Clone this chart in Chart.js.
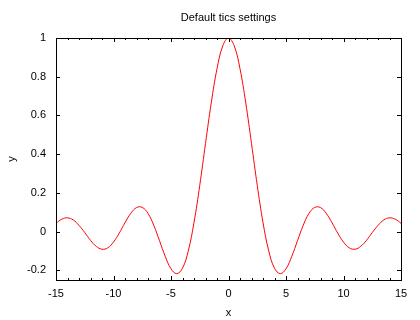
<!DOCTYPE html>
<html>
<head>
<meta charset="UTF-8">
<title>Default tics settings</title>
<script src="https://cdn.jsdelivr.net/npm/chart.js"></script>
<style>
  html, body { margin: 0; padding: 0; background: #fff; }
  #wrap { width: 420px; height: 320px; }
</style>
</head>
<body>
<div id="wrap"><canvas id="c"></canvas></div>
<script>
// values (x from -15 to 15, step 0.5)
const xs = [-15, -14.5, -14, -13.5, -13, -12.5, -12, -11.5, -11, -10.5, -10, -9.5, -9, -8.5, -8, -7.5, -7, -6.5, -6, -5.5, -5, -4.5, -4, -3.5, -3, -2.5, -2, -1.5, -1, -0.5,
  0, 0.5, 1, 1.5, 2, 2.5, 3, 3.5, 4, 4.5, 5, 5.5, 6, 6.5, 7, 7.5, 8, 8.5, 9, 9.5, 10, 10.5, 11, 11.5, 12, 12.5, 13, 13.5, 14, 14.5, 15];
const ys = [0.043, 0.064, 0.071, 0.060, 0.032, -0.005, -0.045, -0.076, -0.091, -0.084, -0.054, -0.008, 0.046, 0.094, 0.124, 0.125, 0.094, 0.033, -0.047, -0.128, -0.192, -0.217, -0.189, -0.100, 0.047, 0.239, 0.455, 0.665, 0.841, 0.959,
  1, 0.959, 0.841, 0.665, 0.455, 0.239, 0.047, -0.100, -0.189, -0.217, -0.192, -0.128, -0.047, 0.033, 0.094, 0.125, 0.124, 0.094, 0.046, -0.008, -0.054, -0.084, -0.091, -0.076, -0.045, -0.005, 0.032, 0.060, 0.071, 0.064, 0.043];
const xTicks = [-15, -10, -5, 0, 5, 10, 15];
const yTicks = [-0.2, 0, 0.2, 0.4, 0.6, 0.8, 1];
const yLabels = ['-0.2', '0', '0.2', '0.4', '0.6', '0.8', '1'];

const FONT = 'Liberation Sans, Arial, sans-serif';
const TITLE = 'Default tics settings';

// frame box, inward tic marks and title centred over the plot, like gnuplot
const frame = {
  id: 'frame',
  afterDatasetsDraw(chart) {
    const ctx = chart.ctx, a = chart.chartArea;
    const sx = chart.scales.x, sy = chart.scales.y;
    ctx.save();
    ctx.strokeStyle = '#000';
    ctx.lineWidth = 1;
    ctx.beginPath();
    for (let v = -15; v <= 15; v++) {
      const px = Math.round(sx.getPixelForValue(v)) + 0.5;
      const len = xTicks.includes(v) ? 4 : 2;
      ctx.moveTo(px, a.bottom); ctx.lineTo(px, a.bottom - len);
      ctx.moveTo(px, a.top); ctx.lineTo(px, a.top + len);
    }
    yTicks.forEach(v => {
      const py = Math.round(sy.getPixelForValue(v)) + 0.5;
      ctx.moveTo(a.left, py); ctx.lineTo(a.left + 4, py);
      ctx.moveTo(a.right, py); ctx.lineTo(a.right - 4, py);
    });
    ctx.stroke();
    ctx.strokeRect(Math.round(a.left) + 0.5, Math.round(a.top) + 0.5,
      Math.round(a.right - a.left), Math.round(a.bottom - a.top));
    ctx.fillStyle = '#000';
    ctx.font = '11px ' + FONT;
    ctx.textAlign = 'center';
    ctx.textBaseline = 'middle';
    ctx.fillText(TITLE, (a.left + a.right) / 2, 18);
    ctx.restore();
  }
};

new Chart(document.getElementById('c'), {
  type: 'line',
  data: {
    datasets: [{
      data: xs.map((x, i) => ({ x: x, y: ys[i] })),
      borderColor: '#ff0000',
      borderWidth: 1,
      pointRadius: 0,
      tension: 0.4,
      fill: false
    }]
  },
  options: {
    responsive: true,
    maintainAspectRatio: false,
    animation: false,
    layout: { padding: { left: 0, right: 19, top: 38, bottom: 0 } },
    plugins: {
      legend: { display: false },
      tooltip: { enabled: false },
      title: { display: false }
    },
    scales: {
      x: {
        type: 'linear',
        min: -15,
        max: 15,
        afterBuildTicks(s) { s.ticks = xTicks.map(v => ({ value: v })); },
        afterFit(s) { s.height = 40; },
        grid: { display: false, drawTicks: false },
        border: { display: false },
        ticks: { color: '#000', padding: 7, maxRotation: 0, font: { family: FONT, size: 11 } },
        title: { display: true, text: 'x', color: '#000', padding: { top: 0, bottom: 0 }, font: { family: FONT, size: 11 } }
      },
      y: {
        type: 'linear',
        min: -0.25,
        max: 1,
        afterBuildTicks(s) { s.ticks = yTicks.map(v => ({ value: v })); },
        afterFit(s) { s.width = 56; },
        grid: { display: false, drawTicks: false },
        border: { display: false },
        ticks: {
          color: '#000', padding: 10, font: { family: FONT, size: 11 },
          callback: (v) => yLabels[yTicks.findIndex(t => Math.abs(t - v) < 1e-9)]
        },
        title: { display: true, text: 'y', color: '#000', padding: { top: 5, bottom: 0 }, font: { family: FONT, size: 11 } }
      }
    }
  },
  plugins: [frame]
});
</script>
</body>
</html>
